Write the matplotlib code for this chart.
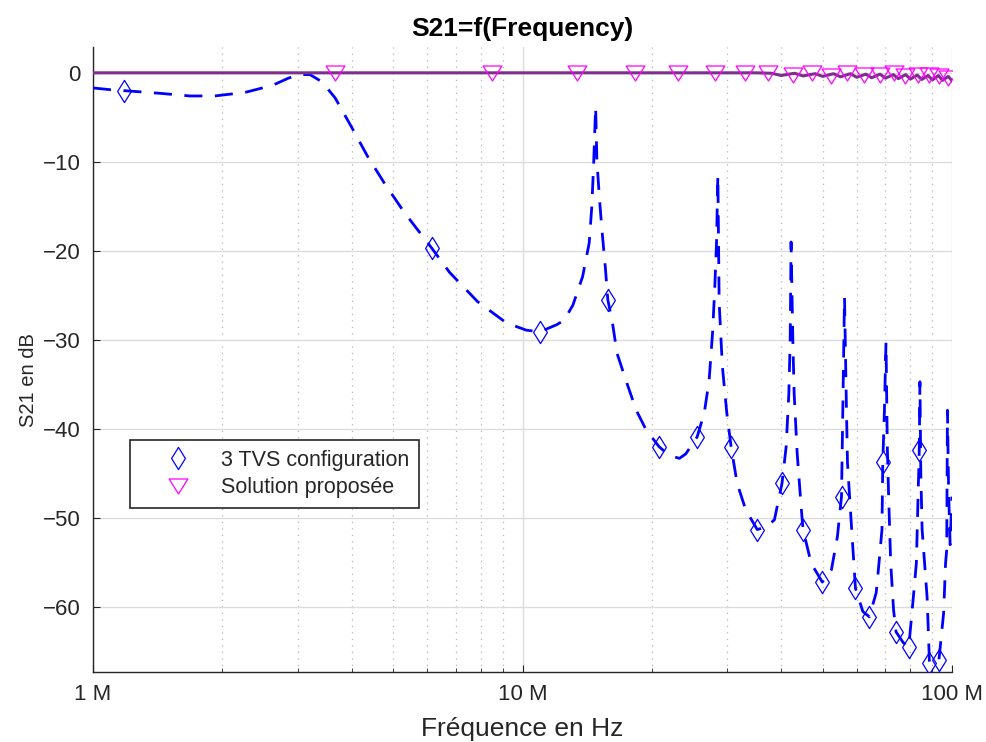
import matplotlib
matplotlib.use("Agg")
import matplotlib.pyplot as plt
from matplotlib.path import Path
from matplotlib.ticker import FixedLocator, FixedFormatter, NullFormatter

# ---------------- data (frequencies in MHz, values in dB) ----------------
tvs_freq_mhz = [1.00, 1.10, 1.18, 1.43, 1.68, 1.92, 2.26, 2.62, 2.85, 3.03, 3.20, 3.41,
                3.66, 4.00, 4.36, 4.77, 5.31, 6.15, 6.76, 7.86, 9.18, 10.2, 10.97, 12.0,
                12.5, 13.1, 13.8, 14.3, 14.5, 14.65, 14.8, 14.9, 15.1, 15.3, 15.6, 15.8,
                16.2, 16.6, 17.4, 18.4, 19.4, 20.8, 22.0, 23.2, 24.0, 25.5, 26.5, 27.2,
                27.7, 28.0, 28.3, 28.5, 28.7, 29.2, 29.9, 30.6, 31.6, 33.1, 35.2, 37.0,
                38.6, 40.2, 41.1, 41.7, 42.0, 42.2, 42.6, 42.9, 43.6, 44.6, 45.0, 47.0,
                49.9, 52.4, 54.1, 55.3, 55.6, 56.2, 56.7, 57.1, 58.4, 59.6, 62.0, 64.2,
                66.6, 67.6, 68.7, 69.0, 69.6, 70.2, 70.7, 71.2, 72.0, 73.1, 74.1, 77.0,
                79.3, 80.9, 82.6, 83.9, 84.2, 84.6, 85.2, 87.5, 88.4, 88.6, 93.2, 95.6,
                96.6, 97.2, 97.6, 98.2, 99.0, 100.0]
tvs_db = [-1.7, -1.9, -2.0, -2.3, -2.6, -2.6, -2.2, -1.4, -0.6, -0.2, -0.2, -1.0,
          -2.8, -6.1, -9.4, -12.4, -15.7, -19.7, -22.4, -25.7, -28.1, -28.9, -29.1, -28.3,
          -27.8, -26.1, -22.9, -19.1, -15.0, -10.0, -3.8, -9.8, -14.0, -17.5, -22.0, -25.5,
          -28.1, -31.5, -34.5, -37.9, -40.1, -42.0, -43.0, -43.3, -42.8, -40.9, -38.2, -34.5,
          -29.2, -24.7, -19.0, -11.5, -25.8, -33.0, -38.2, -42.0, -46.1, -49.1, -51.3, -51.0,
          -50.2, -46.1, -42.0, -36.0, -30.0, -19.0, -30.0, -36.0, -42.7, -49.1, -51.3, -55.1,
          -57.2, -55.8, -52.1, -47.6, -40.1, -25.2, -36.0, -43.8, -51.3, -57.9, -60.5, -61.1,
          -58.4, -55.1, -51.3, -43.7, -38.0, -30.3, -42.0, -47.6, -55.1, -60.3, -62.8, -64.0,
          -64.5, -60.0, -55.1, -42.4, -34.7, -45.0, -51.3, -58.9, -64.8, -66.3, -66.0, -60.7,
          -55.1, -53.6, -37.9, -47.0, -53.0, -47.6]

tvs_mark_freq_mhz = [1.18, 6.15, 11.0, 15.8, 20.8, 25.5, 30.6, 35.2, 40.2, 45.0,
                     49.9, 55.3, 59.6, 64.2, 69.0, 74.1, 79.3, 83.9, 88.6, 93.2]
tvs_mark_db = [-2.0, -19.7, -29.1, -25.5, -42.0, -40.9, -42.0, -51.3, -46.1, -51.3,
               -57.2, -47.6, -57.9, -61.1, -43.7, -62.8, -64.5, -42.4, -66.3, -66.0]

sol_freq_mhz = [1, 35, 38, 40, 43, 45, 48, 50, 53, 55, 58, 60, 63, 65, 68, 70,
                73, 75, 78, 80, 83, 85, 88, 90, 93, 95, 98, 100]
sol_db = [0, 0, -0.05, -0.3, -0.05, -0.35, -0.1, -0.4, -0.1, -0.45, -0.1, -0.5,
          -0.15, -0.55, -0.15, -0.6, -0.2, -0.65, -0.2, -0.7, -0.25, -0.75, -0.3,
          -0.8, -0.3, -0.85, -0.4, -0.9]

sol_mark_freq_mhz = [3.65, 8.5, 13.4, 18.3, 23.0, 28.0, 33.0, 37.3, 42.7, 47.3,
                     52.3, 57.1, 62.4, 67.9, 73.1, 77.9, 83.2, 88.4, 93.3, 98.0]
sol_mark_db = [0, 0, 0, 0, 0, 0, 0, 0, -0.25, 0,
               -0.4, 0, -0.25, -0.25, 0, -0.4, -0.25, -0.25, -0.4, -0.6]

x_ticks_hz = [1e6, 1e7, 1e8]
x_tick_labels = ["1 M", "10 M", "100 M"]
y_ticks = [-60, -50, -40, -30, -20, -10, 0]

series_labels = ["3 TVS configuration", "Solution proposée"]
title_text = "S21=f(Frequency)"
xlabel_text = "Fréquence en Hz"
ylabel_text = "S21 en dB"

# ---------------- styling ----------------
FONT = ["Liberation Sans", "DejaVu Sans"]
plt.rcParams["font.family"] = FONT
plt.rcParams["axes.unicode_minus"] = True

AX_COL = "#262626"
BLUE = "#0000FF"
MAGENTA = "#FF00FF"
PURPLE = "#7E2F8E"

diamond = Path([(0, 1), (0.62, 0), (0, -1), (-0.62, 0), (0, 1)],
               [Path.MOVETO, Path.LINETO, Path.LINETO, Path.LINETO, Path.CLOSEPOLY])
tri_down = Path([(-1, 0.8), (1, 0.8), (0, -0.8), (-1, 0.8)],
                [Path.MOVETO, Path.LINETO, Path.LINETO, Path.CLOSEPOLY])

fig = plt.figure(figsize=(9.87, 7.42), dpi=100)
ax = fig.add_axes([93 / 987, 1 - 672 / 742, (952 - 93) / 987, (672 - 47) / 742])

to_hz = lambda seq: [v * 1e6 for v in seq]

# lines
ax.plot(to_hz(tvs_freq_mhz), tvs_db, color=BLUE, lw=2.0,
        linestyle=(0, (6.5, 4.5)), zorder=3)
ax.plot(to_hz(sol_freq_mhz), sol_db, color=PURPLE, lw=2.2, zorder=4)

# markers
ax.plot(to_hz(tvs_mark_freq_mhz), tvs_mark_db, linestyle="none", marker=diamond,
        markersize=16, markerfacecolor="none", markeredgecolor=BLUE,
        markeredgewidth=0.9, label=series_labels[0], zorder=5)
ax.plot(to_hz(sol_mark_freq_mhz), sol_mark_db, linestyle="none", marker=tri_down,
        markersize=13.5, markerfacecolor="none", markeredgecolor=MAGENTA,
        markeredgewidth=0.9, label=series_labels[1], zorder=5)

ax.set_xscale("log")
ax.set_xlim(1e6, 1e8)
ax.set_ylim(-67.3, 2.9)

ax.xaxis.set_major_locator(FixedLocator(x_ticks_hz))
ax.xaxis.set_major_formatter(FixedFormatter(x_tick_labels))
minor = [m * d for d in (1e6, 1e7) for m in range(2, 10)]
ax.xaxis.set_minor_locator(FixedLocator(minor))
ax.xaxis.set_minor_formatter(NullFormatter())
ax.set_yticks(y_ticks)

# grid
ax.grid(True, which="major", axis="both", color="#DCDCDC", lw=1.0, ls="-", zorder=0)
ax.grid(True, which="minor", axis="x", color="#B4B4B4", lw=0.9, ls=(0, (1.0, 4.2)), zorder=0)
ax.set_axisbelow(True)

for s in ("top", "right"):
    ax.spines[s].set_visible(False)
for s in ("left", "bottom"):
    ax.spines[s].set_color(AX_COL)
    ax.spines[s].set_linewidth(1.0)

ax.tick_params(which="both", direction="in", colors=AX_COL, top=False, right=False)
ax.tick_params(which="major", length=5, width=0.8, labelsize=16, pad=9)
ax.tick_params(which="minor", length=3, width=0.6)

ax.set_title(title_text, fontsize=19, fontweight="bold", color="black", pad=8)
ax.set_xlabel(xlabel_text, fontsize=19, color=AX_COL, labelpad=8)
ax.set_ylabel(ylabel_text, fontsize=14.5, color=AX_COL)
ax.yaxis.set_label_coords(-0.064, 0.467)

leg = ax.legend(loc="upper left", bbox_to_anchor=(0.043, 0.371), borderaxespad=0,
                fontsize=15.5, frameon=True, fancybox=False, framealpha=1,
                edgecolor=AX_COL, handlelength=3.6, handletextpad=0.2,
                labelspacing=0.3, borderpad=0.45)
leg.get_frame().set_linewidth(1.2)
for t in leg.get_texts():
    t.set_color(AX_COL)

fig.savefig("out.png", dpi=100)
